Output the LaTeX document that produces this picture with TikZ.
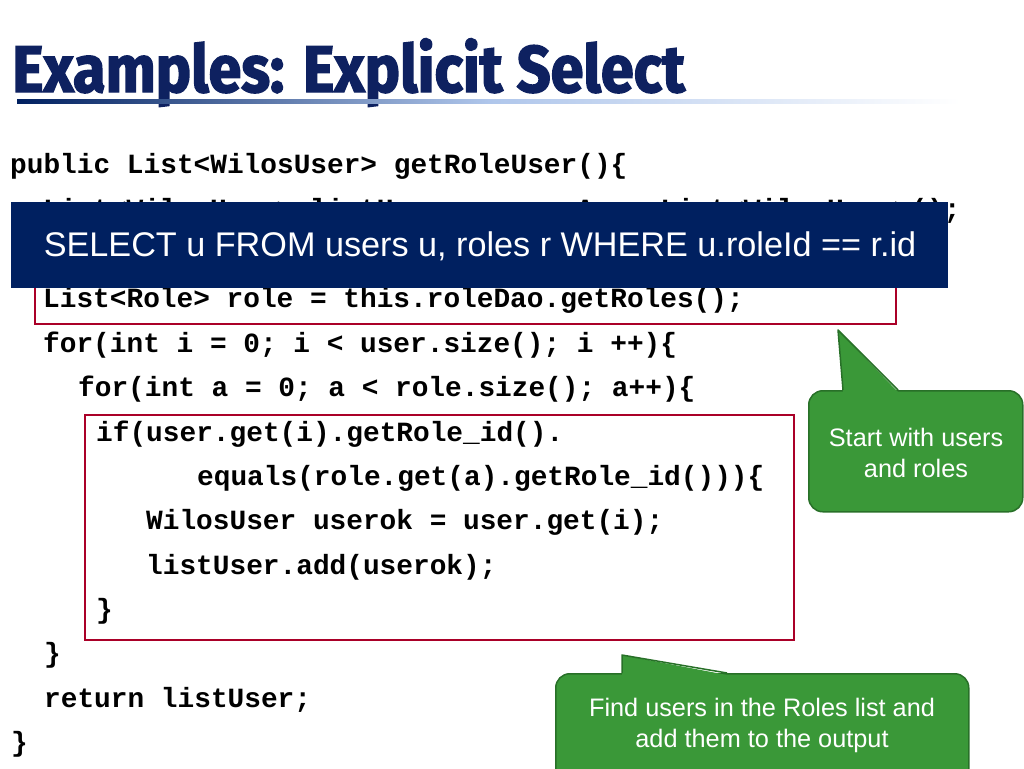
\documentclass[tikz,border=0pt]{standalone}
\usepackage{fontspec}
\setmainfont{Liberation Sans}
\newfontfamily\codefont{Liberation Mono}
\newfontfamily\titlefont{Fira Sans}[FakeStretch=0.9,FakeBold=2.2]
\definecolor{navy}{RGB}{0,32,96}
\definecolor{titleblue}{RGB}{14,33,96}
\definecolor{codered}{RGB}{170,0,40}
\definecolor{cgreen}{RGB}{58,152,56}
\definecolor{cgreendark}{RGB}{40,112,40}
\definecolor{lightblue}{RGB}{175,198,235}
\tikzset{
  code/.style={anchor=base west,inner sep=0pt,font=\codefont\bfseries\fontsize{27.8}{30}\selectfont,text=black},
  redbox/.style={draw=codered,line width=2.2pt},
  navybox/.style={fill=navy,draw=none},
  calloutbox/.style={fill=cgreen,draw=cgreendark,line width=1.5pt,rounded corners=14pt},
  callouttext/.style={text=white,align=center,font=\fontsize{25.3}{31}\selectfont},
}
\newcommand{\xspc}{\phantom{x}}
\begin{document}
\begin{tikzpicture}[x=1pt,y=-1pt]
\useasboundingbox (0,0) rectangle (1024,768);
% title
\node[anchor=base west,inner sep=0pt,text=titleblue,font=\titlefont\bfseries\fontsize{66}{72}\selectfont] (title) at (12,92) {Examples: Explicit Select};
\shade[left color=navy,right color=white,middle color=lightblue] (17,99) rectangle (960,103);
% code lines
\node[code] (l0) at (10,173) {public List<WilosUser> getRoleUser()\{};
\node[code] (l1) at (43,218) {List<WilosUser> listUser \xspc=\xspc new ArrayList<WilosUser>();};
\node[code] (l3) at (43,307) {List<Role> role = this.roleDao.getRoles();};
\node[code] (l4) at (43,352) {for(int i = 0; i < user.size(); i ++)\{};
\node[code] (l5) at (78,396) {for(int a = 0; a < role.size(); a++)\{};
\node[code] (l6) at (96,441) {if(user.get(i).getRole\_id().};
\node[code] (l7) at (197,485) {equals(role.get(a).getRole\_id()))\{};
\node[code] (l8) at (146,529) {WilosUser userok = user.get(i);};
\node[code] (l9) at (146,574) {listUser.add(userok);};
\node[code] (l10) at (96,618) {\}};
\node[code] (l11) at (44,662) {\}};
\node[code] (l12) at (44,707) {return listUser;};
\node[code] (l13) at (11,751) {\}};
% red boxes
\draw[redbox] (35,232) rectangle (896,324);
\draw[redbox] (85,415) rectangle (794,640);
% navy SQL box
\node[navybox,minimum width=937pt,minimum height=86pt,anchor=north west,inner sep=0pt] (sql) at (11,202) {};
\node[text=white,font=\fontsize{34.2}{36}\selectfont,anchor=center,inner sep=0pt] (sqltext) at (480,246) {SELECT u FROM users u, roles r WHERE u.roleId == r.id};
% callout 1
\node[calloutbox,minimum width=214pt,minimum height=121pt,anchor=north west,inner sep=0pt] (c1) at (808,390) {};
\coordinate (c1tip) at (838,330);
\coordinate (c1a) at (843,390);
\coordinate (c1b) at (898,390);
\fill[cgreen] ([yshift=-2pt]c1a) -- (c1tip) -- ([yshift=-2pt]c1b) -- cycle;
\draw[cgreendark,line width=1.5pt,line join=round] (c1a) -- (c1tip) -- (c1b);
\node[callouttext] (c1text) at (916,453) {Start with users\\and roles};
% callout 2
\node[calloutbox,minimum width=413pt,minimum height=120pt,anchor=north west,inner sep=0pt] (c2) at (555,673) {};
\coordinate (c2tip) at (622,655);
\coordinate (c2a) at (622,673);
\coordinate (c2b) at (727,673);
\fill[cgreen] ([yshift=-2pt]c2a) -- (c2tip) -- ([yshift=-2pt]c2b) -- cycle;
\draw[cgreendark,line width=1.5pt,line join=round] (c2a) -- (c2tip) -- (c2b);
\node[callouttext] (c2text) at (762,725) {Find users in the Roles list and\\add them to the output};
\end{tikzpicture}
\end{document}
